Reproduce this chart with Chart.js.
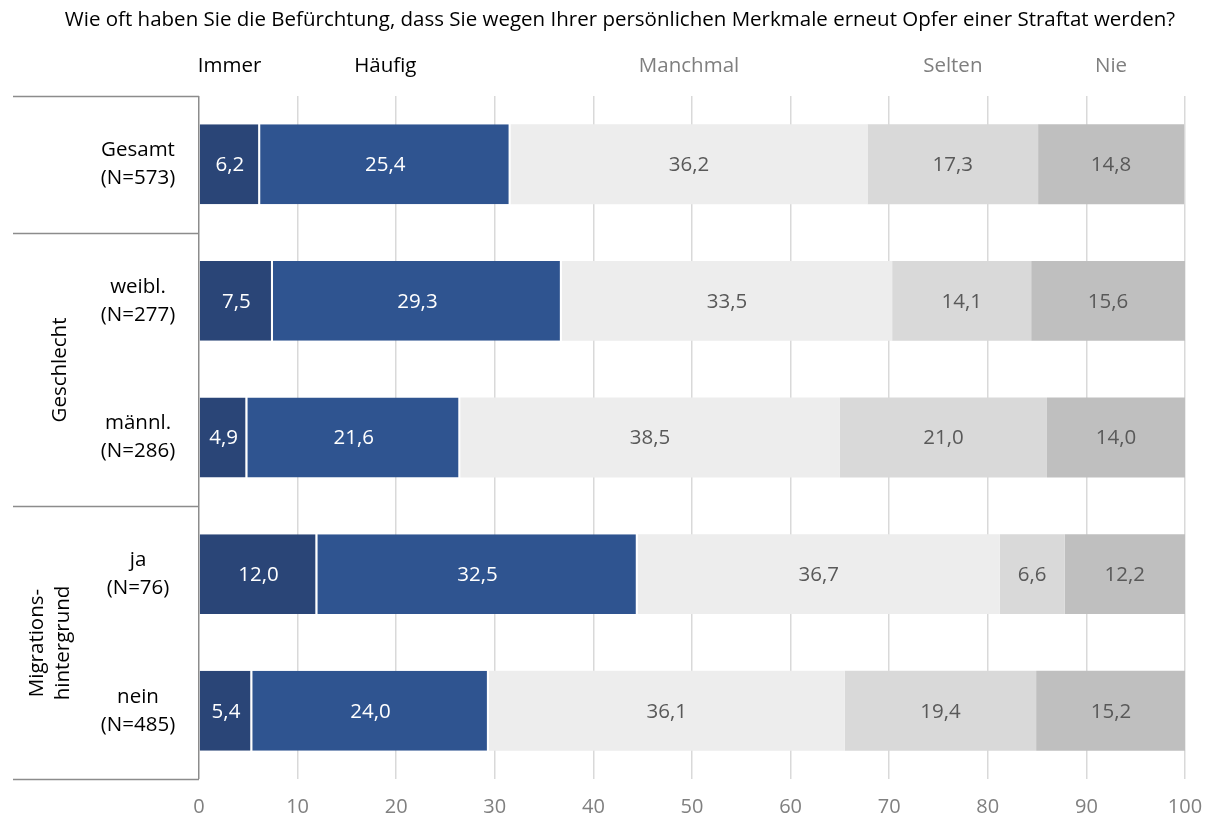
<!DOCTYPE html>
<html>
<head>
<meta charset="utf-8">
<script src="https://cdn.jsdelivr.net/npm/chart.js@4"></script>
<style>
  html, body { margin: 0; padding: 0; background: #fff; }
  #wrap { width: 1212px; height: 822px; }
</style>
</head>
<body>
<div id="wrap"><canvas id="chart" width="1212" height="822"></canvas></div>
<script>
const title = 'Wie oft haben Sie die Befürchtung, dass Sie wegen Ihrer persönlichen Merkmale erneut Opfer einer Straftat werden?';
const categories = [['Gesamt', '(N=573)'], ['weibl.', '(N=277)'], ['männl.', '(N=286)'], ['ja', '(N=76)'], ['nein', '(N=485)']];
const groups = [['Geschlecht'], ['Migrations-', 'hintergrund']];
const seriesNames = ['Immer', 'Häufig', 'Manchmal', 'Selten', 'Nie'];
const immer = [6.2, 7.5, 4.9, 12.0, 5.4];
const haeufig = [25.4, 29.3, 21.6, 32.5, 24.0];
const manchmal = [36.2, 33.5, 38.5, 36.7, 36.1];
const selten = [17.3, 14.1, 21.0, 6.6, 19.4];
const nie = [14.8, 15.6, 14.0, 12.2, 15.2];
const xTicks = [0, 10, 20, 30, 40, 50, 60, 70, 80, 90, 100];

const FONT = '"Open Sans", sans-serif';
const SIZE = 20.5;
const colors = ['#2a4577', '#2f5490', '#ededed', '#d9d9d9', '#bfbfbf'];
const labelColors = ['#ffffff', '#ffffff', '#595959', '#595959', '#595959'];
const headColors = ['#000000', '#000000', '#7f7f7f', '#7f7f7f', '#7f7f7f'];
const fmt = v => v.toFixed(1).replace('.', ',');

const seriesData = [immer, haeufig, manchmal, selten, nie];

const decorations = {
  id: 'decorations',
  afterDatasetsDraw(chart) {
    const { ctx } = chart;
    ctx.save();
    ctx.textAlign = 'center';
    ctx.textBaseline = 'middle';
    ctx.font = SIZE + 'px ' + FONT;
    // value labels inside segments
    chart.data.datasets.forEach((ds, di) => {
      const meta = chart.getDatasetMeta(di);
      meta.data.forEach((bar, i) => {
        ctx.fillStyle = labelColors[di];
        ctx.fillText(fmt(ds.data[i]), (bar.x + bar.base) / 2, bar.y + 1);
      });
    });
    ctx.restore();
  },
  afterDraw(chart) {
    const { ctx, chartArea, scales } = chart;
    const x = scales.x, y = scales.y;
    ctx.save();
    ctx.textAlign = 'center';
    ctx.textBaseline = 'middle';
    ctx.font = SIZE + 'px ' + FONT;
    // title
    ctx.fillStyle = '#000';
    ctx.fillText(title, 620, 20);
    // series heads above first bar
    let acc = 0;
    seriesNames.forEach((name, i) => {
      const v = seriesData[i][0];
      const cx = (x.getPixelForValue(acc) + x.getPixelForValue(acc + v)) / 2;
      acc += v;
      ctx.fillStyle = headColors[i];
      ctx.fillText(name, cx, 66);
    });
    // category labels
    ctx.fillStyle = '#000';
    categories.forEach((lines, i) => {
      const cy = y.getPixelForValue(i);
      lines.forEach((t, k) => ctx.fillText(t, 138, cy + (k - (lines.length - 1) / 2) * 28));
    });
    // group separators
    const step = y.getPixelForValue(1) - y.getPixelForValue(0);
    const seps = [-0.5, 0.5, 2.5, 4.5].map(b => Math.round(y.getPixelForValue(0) + b * step) + 0.5);
    ctx.strokeStyle = '#8c8c8c';
    ctx.lineWidth = 1.5;
    seps.forEach(sy => {
      ctx.beginPath();
      ctx.moveTo(13, sy);
      ctx.lineTo(chartArea.left, sy);
      ctx.stroke();
    });
    // group labels (rotated)
    const groupSpans = [[seps[1], seps[2]], [seps[2], seps[3]]];
    const groupX = [60, 50];
    groups.forEach((lines, g) => {
      const cy = (groupSpans[g][0] + groupSpans[g][1]) / 2;
      ctx.save();
      ctx.translate(groupX[g], cy);
      ctx.rotate(-Math.PI / 2);
      ctx.fillStyle = '#000';
      lines.forEach((t, k) => ctx.fillText(t, 0, (k - (lines.length - 1) / 2) * 26));
      ctx.restore();
    });
    ctx.restore();
  }
};

new Chart(document.getElementById('chart'), {
  type: 'bar',
  data: {
    labels: categories,
    datasets: seriesData.map((d, i) => ({
      label: seriesNames[i],
      data: d,
      backgroundColor: colors[i],
      borderColor: '#ffffff',
      borderWidth: i < 2 ? { right: 2 } : 0,
      borderSkipped: false,
      categoryPercentage: 1,
      barPercentage: 0.585
    }))
  },
  options: {
    indexAxis: 'y',
    responsive: false,
    animation: false,
    layout: { padding: { left: 199, right: 27, top: 96, bottom: 0 } },
    plugins: { legend: { display: false }, tooltip: { enabled: false } },
    scales: {
      x: {
        stacked: true,
        min: 0,
        max: 100,
        afterBuildTicks: s => { s.ticks = xTicks.map(v => ({ value: v })); },
        afterFit: s => { s.height = 43; s.paddingLeft = 0; s.paddingRight = 0; },
        grid: {
          color: c => c.tick && c.tick.value === 0 ? '#8c8c8c' : '#d9d9d9',
          lineWidth: 1.5,
          drawTicks: false
        },
        border: { display: false },
        ticks: { color: '#808080', font: { family: FONT, size: 20 }, padding: 16 }
      },
      y: {
        stacked: true,
        display: false
      }
    }
  },
  plugins: [decorations]
});
</script>
</body>
</html>
